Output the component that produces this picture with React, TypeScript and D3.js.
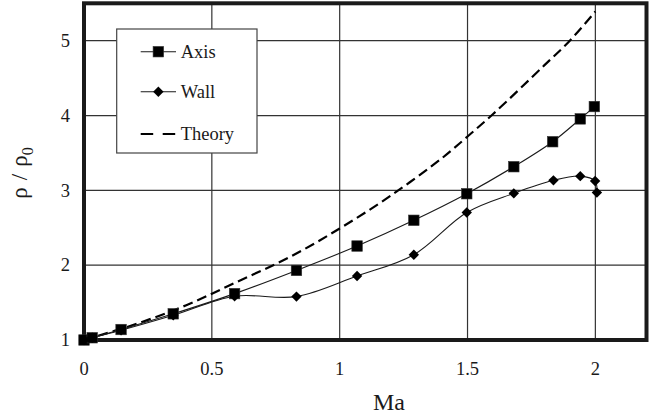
import React from 'react';
import * as d3 from 'd3';

// Measured density ratio along the axis and at the wall, plus the theoretical curve
const axisMa = [0, 0.032, 0.145, 0.349, 0.589, 0.831, 1.068, 1.29, 1.497, 1.681, 1.833, 1.941, 1.996];
const axisRho = [1.0, 1.03, 1.14, 1.35, 1.62, 1.93, 2.256, 2.6, 2.955, 3.316, 3.65, 3.955, 4.12];

const wallMa = [0, 0.032, 0.145, 0.349, 0.589, 0.831, 1.068, 1.29, 1.497, 1.681, 1.836, 1.941, 1.999, 2.006];
const wallRho = [1.0, 1.03, 1.13, 1.33, 1.585, 1.58, 1.855, 2.14, 2.705, 2.96, 3.134, 3.19, 3.125, 2.97];

const theoryMa = [0, 0.2, 0.4, 0.6, 0.8, 1.0, 1.2, 1.4, 1.5, 1.6, 1.8, 1.9, 2.0];
const theoryRho = [1.0, 1.21, 1.465, 1.78, 2.1, 2.49, 2.93, 3.43, 3.72, 4.02, 4.67, 5.0, 5.39];

const xTicks = [0, 0.5, 1, 1.5, 2];
const yTicks = [1, 2, 3, 4, 5];
const legendLabels = ['Axis', 'Wall', 'Theory'];

const W = 653;
const H = 418;
const FONT = "'Liberation Serif'";
const INK = '#1a1a1a';

const x = d3.scaleLinear().domain([0, 2.2]).range([84, 646.5]);
const y = d3.scaleLinear().domain([1, 5.5]).range([340, 3.3]);

type Pt = [number, number];
const zip = (a: number[], b: number[]): Pt[] => a.map((v, i) => [v, b[i]]);

const line = d3
  .line<Pt>()
  .x((d) => x(d[0]))
  .y((d) => y(d[1]))
  .curve(d3.curveCatmullRom.alpha(0.5));

const axisPts = zip(axisMa, axisRho);
const wallPts = zip(wallMa, wallRho);
const theoryPts = zip(theoryMa, theoryRho);

const Square = ({ cx, cy, s = 10.5 }: { cx: number; cy: number; s?: number }) => (
  <rect x={cx - s / 2} y={cy - s / 2} width={s} height={s} fill="#000" stroke="#333" strokeWidth={0.6} />
);

const Diamond = ({ cx, cy, r = 5.2 }: { cx: number; cy: number; r?: number }) => (
  <path d={`M${cx},${cy - r}L${cx + r},${cy}L${cx},${cy + r}L${cx - r},${cy}Z`} fill="#000" />
);

const textStyle: React.CSSProperties = { fontFamily: FONT };

export default function App() {
  const [x0, x1] = x.range();
  const [y0, y1] = y.range();
  const legend = { x: 116.7, y: 29, w: 140.3, h: 124 };
  const legendRows = [51.7, 91.7, 134];
  const sampleX0 = 140.7;
  const sampleX1 = 176;

  return (
    <svg
      width={W}
      height={H}
      viewBox={`0 0 ${W} ${H}`}
      style={{ position: 'absolute', left: 0, top: 0, background: '#fff' }}
    >
      <rect width={W} height={H} fill="#fff" />

      {/* grid */}
      {xTicks.filter((t) => t > 0).map((t) => (
        <line key={`gx${t}`} x1={x(t)} x2={x(t)} y1={y1} y2={y0} stroke="#333" strokeWidth={1.2} />
      ))}
      {yTicks.filter((t) => t > 1).map((t) => (
        <line key={`gy${t}`} x1={x0} x2={x1} y1={y(t)} y2={y(t)} stroke="#333" strokeWidth={1.2} />
      ))}

      {/* legend */}
      <rect x={legend.x} y={legend.y} width={legend.w} height={legend.h} fill="#fff" stroke="#444" strokeWidth={1.2} />
      {legendLabels.map((lab, i) => {
        const ly = legendRows[i];
        const mid = (sampleX0 + sampleX1) / 2;
        return (
          <g key={lab}>
            {i < 2 ? (
              <line x1={sampleX0} x2={sampleX1} y1={ly} y2={ly} stroke={INK} strokeWidth={1.1} />
            ) : (
              <line x1={sampleX0} x2={sampleX1} y1={ly} y2={ly} stroke="#000" strokeWidth={2.2} strokeDasharray="12.5 9.5" />
            )}
            {i === 0 && <Square cx={mid} cy={ly} />}
            {i === 1 && <Diamond cx={mid} cy={ly} />}
            <text x={180.7} y={ly + 6.3} fontSize={18.5} fill={INK} style={textStyle}>
              {lab}
            </text>
          </g>
        );
      })}

      {/* series */}
      <path d={line(theoryPts) ?? ''} fill="none" stroke="#000" strokeWidth={2.2} strokeDasharray="10 5" />
      <path d={line(axisPts) ?? ''} fill="none" stroke={INK} strokeWidth={1.1} />
      <path d={line(wallPts) ?? ''} fill="none" stroke={INK} strokeWidth={1.1} />

      {/* frame */}
      <rect x={x0} y={y1} width={x1 - x0} height={y0 - y1} fill="none" stroke={INK} strokeWidth={4} />

      {axisPts.map((d, i) => (
        <Square key={`s${i}`} cx={x(d[0])} cy={y(d[1])} />
      ))}
      {wallPts.map((d, i) => (
        <Diamond key={`d${i}`} cx={x(d[0])} cy={y(d[1])} />
      ))}

      {/* tick labels */}
      {yTicks.map((t) => (
        <text key={`yl${t}`} x={70} y={y(t) + 6.3} fontSize={18.5} textAnchor="end" fill={INK} style={textStyle}>
          {t}
        </text>
      ))}
      {xTicks.map((t) => (
        <text key={`xl${t}`} x={x(t)} y={374.5} fontSize={18.5} textAnchor="middle" fill={INK} style={textStyle}>
          {t}
        </text>
      ))}

      {/* axis titles */}
      <text x={389} y={410} fontSize={24} textAnchor="middle" fill={INK} style={textStyle}>
        Ma
      </text>
      <text transform="translate(27,173) rotate(-90)" fontSize={23} textAnchor="middle" fill={INK} style={textStyle}>
        ρ<tspan dx={7}>/</tspan>
        <tspan dx={7}>ρ</tspan>
        <tspan fontSize={16} dy={6}>0</tspan>
      </text>
    </svg>
  );
}
